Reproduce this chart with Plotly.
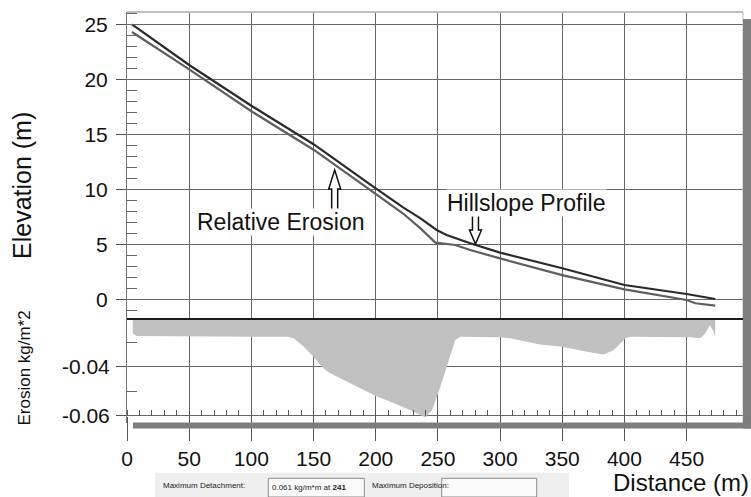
import plotly.graph_objects as go

# ---------------- data ----------------
profile_x = [4, 50, 100, 150, 196, 222, 236, 249, 257, 276, 300, 350, 400, 450, 473]
profile_y = [25.0, 21.3, 17.6, 14.1, 10.4, 8.36, 7.36, 6.3, 5.85, 5.09, 4.24, 2.82, 1.3, 0.48, 0.03]

relative_x = [4, 50, 100, 150, 196, 222, 236, 248, 264, 276, 300, 350, 400, 450, 457, 473]
relative_y = [24.3, 20.9, 17.1, 13.6, 9.9, 7.8, 6.45, 5.15, 4.94, 4.48, 3.72, 2.2, 0.9, -0.06, -0.36, -0.58]

erosion_x = [4.6, 8, 129, 134, 142, 150, 155.5, 161, 169, 177, 185, 193, 201, 212, 220, 230.5,
             240, 245.3, 252, 258.7, 264, 268, 300, 308, 314, 322, 332, 348.5, 364.6, 370, 383.3,
             391.4, 396.7, 400.8, 404.8, 453, 461, 465, 468.6, 471.8, 473]
erosion_y = [-0.0264, -0.0275, -0.0278, -0.0284, -0.0318, -0.0359, -0.0393, -0.0420, -0.0441, -0.0461,
             -0.0482, -0.0502, -0.0522, -0.0543, -0.0560, -0.0584, -0.0607, -0.0577, -0.0482, -0.0373,
             -0.0291, -0.0278, -0.0280, -0.0284, -0.0291, -0.0300, -0.0309, -0.0318, -0.0335, -0.0339,
             -0.0350, -0.0332, -0.0305, -0.0284, -0.0278, -0.0280, -0.0284, -0.0264, -0.0230, -0.0257, -0.0278]

x_ticks = [0, 50, 100, 150, 200, 250, 300, 350, 400, 450]
elev_ticks = [0, 5, 10, 15, 20, 25]
eros_ticks = [-0.04, -0.06]

FONT = "Liberation Sans, Arial, sans-serif"
W, H = 751, 497
L_PX, R_PX, T_PX, B_PX = 127, 743, 12, 423   # plot area edges in window pixels
ML, MR, MT, MB = L_PX, W - R_PX, T_PX, H - B_PX
PW, PH = R_PX - L_PX, B_PX - T_PX


def px(xp):
    return (xp - L_PX) / PW


def py(yp):
    return (B_PX - yp) / PH


split = py(319)

fig = go.Figure()

fig.add_trace(go.Scatter(x=erosion_x, y=erosion_y, xaxis="x2", yaxis="y2", mode="lines",
                         line=dict(width=0, color="#c0c0c0"), fill="tozeroy",
                         fillcolor="#c0c0c0", showlegend=False, hoverinfo="skip"))
fig.add_trace(go.Scatter(x=relative_x, y=relative_y, xaxis="x", yaxis="y", mode="lines",
                         line=dict(width=2.2, color="#5e5e5e"), showlegend=False))
fig.add_trace(go.Scatter(x=profile_x, y=profile_y, xaxis="x", yaxis="y", mode="lines",
                         line=dict(width=2.2, color="#2a2a2a"), showlegend=False))

xr = [0, PW / 1.2436]
grid = "#666666"

fig.update_layout(
    width=W, height=H,
    margin=dict(l=ML, r=MR, t=MT, b=MB, pad=0),
    paper_bgcolor="white", plot_bgcolor="white",
    font=dict(family=FONT, color="#111"),
    xaxis=dict(domain=[0, 1], anchor="y", range=xr, tickvals=x_ticks, showticklabels=False,
               ticks="", showgrid=True, gridcolor=grid, gridwidth=1, zeroline=False, showline=False),
    xaxis2=dict(domain=[0, 1], anchor="free", position=py(415.7), range=xr, tickvals=x_ticks,
                ticks="outside", ticklen=24, tickcolor="#555", tickwidth=1,
                tickfont=dict(size=21, family=FONT, color="#111"),
                showgrid=True, gridcolor=grid, gridwidth=1, zeroline=False, showline=False,
                minor=dict(dtick=10, tick0=0, ticks="inside", ticklen=6, tickcolor="#555", showgrid=False)),
    yaxis=dict(domain=[split, 1], anchor="x", range=[-1.79, 26.12], tickvals=elev_ticks,
               ticks="outside", ticklen=10, tickcolor="#555", ticklabelstandoff=4,
               tickfont=dict(size=21, family=FONT, color="#111"),
               showgrid=True, gridcolor=grid, zeroline=False, showline=True, linecolor="#777", linewidth=1,
               minor=dict(dtick=1, tick0=0, ticks="inside", ticklen=10, tickcolor="#666", showgrid=False)),
    yaxis2=dict(domain=[0, split], anchor="x2", range=[-0.06298, -0.02053], tickvals=eros_ticks,
                ticktext=["-0.04", "-0.06"],
                ticks="outside", ticklen=10, tickcolor="#555", ticklabelstandoff=2,
                tickfont=dict(size=21, family=FONT, color="#111"),
                showgrid=True, gridcolor=grid, zeroline=False, showline=True, linecolor="#777", linewidth=1,
                minor=dict(tickvals=[-0.03, -0.05], ticks="inside", ticklen=10, tickcolor="#666", showgrid=False)),
)

shapes = []
# top border, separator line, shadows
shapes.append(dict(type="line", xref="paper", yref="paper", x0=0, x1=1, y0=1, y1=1,
                   line=dict(color="#bdbdbd", width=2), layer="above"))
shapes.append(dict(type="line", xref="paper", yref="paper", x0=1, x1=1, y0=0, y1=1,
                   line=dict(color="#bdbdbd", width=1), layer="above"))
shapes.append(dict(type="line", xref="paper", yref="paper", x0=0, x1=1, y0=split, y1=split,
                   line=dict(color="#1a1a1a", width=2), layer="above"))
shapes.append(dict(type="rect", xref="paper", yref="paper", x0=1, x1=px(751), y0=py(428.5), y1=py(19),
                   line=dict(width=0), fillcolor="#7d7d7d", layer="above"))
shapes.append(dict(type="rect", xref="paper", yref="paper", x0=px(133), x1=px(751), y0=py(428.5), y1=py(422.5),
                   line=dict(width=0), fillcolor="#7d7d7d", layer="above"))

# hollow arrows
shapes.append(dict(type="path", xref="x", yref="y", xsizemode="pixel", ysizemode="pixel",
                   xanchor=167, yanchor=11.75,
                   path="M 0 0 L -6 -19 L -3 -19 L -3 -42 L 3 -42 L 3 -19 L 6 -19 Z",
                   fillcolor="white", line=dict(color="#111", width=1.5), layer="above"))
shapes.append(dict(type="path", xref="x", yref="y", xsizemode="pixel", ysizemode="pixel",
                   xanchor=280.2, yanchor=5.03,
                   path="M 0 0 L -6 14 L -3 14 L -3 33 L 3 33 L 3 14 L 6 14 Z",
                   fillcolor="white", line=dict(color="#111", width=1.5), layer="above"))

# info bar
shapes.append(dict(type="rect", xref="paper", yref="paper", x0=px(155), x1=px(569), y0=py(497), y1=py(472.7),
                   line=dict(width=0), fillcolor="#efefef", layer="above"))
for a, b in [(268.3, 364.3), (441.7, 536.7)]:
    shapes.append(dict(type="rect", xref="paper", yref="paper", x0=px(a), x1=px(b), y0=py(497), y1=py(478.3),
                       line=dict(width=1, color="#8a8a8a"), fillcolor="#f9f9f9", layer="above"))

fig.update_layout(shapes=shapes)

ann = []
ann.append(dict(text="Relative Erosion", x=55.8, y=7.05, xref="x", yref="y", xanchor="left", yanchor="middle",
                showarrow=False, font=dict(size=23, family=FONT, color="#111"), bgcolor="white", borderpad=0))
ann.append(dict(text="Hillslope Profile", x=256.8, y=8.8, xref="x", yref="y", xanchor="left", yanchor="middle",
                showarrow=False, font=dict(size=23, family=FONT, color="#111"), bgcolor="white", borderpad=0))
ann.append(dict(text="Elevation (m)", x=px(22), y=py(186), xref="paper", yref="paper", textangle=-90,
                showarrow=False, font=dict(size=25, family=FONT, color="#111"), xanchor="center", yanchor="middle"))
ann.append(dict(text="Erosion kg/m*2", x=px(24), y=py(368.5), xref="paper", yref="paper", textangle=-90,
                showarrow=False, font=dict(size=17, family=FONT, color="#111"), xanchor="center", yanchor="middle"))
ann.append(dict(text="Distance (m)", x=px(681), y=py(482), xref="paper", yref="paper",
                showarrow=False, font=dict(size=24, family=FONT, color="#111"), xanchor="center", yanchor="middle"))
ann.append(dict(text="Maximum Detachment:", x=px(160.7), y=py(485), xref="paper", yref="paper",
                showarrow=False, font=dict(size=8, family=FONT, color="#222"), xanchor="left", yanchor="middle"))
ann.append(dict(text="0.061 kg/m*m at <b>241</b>", x=px(270), y=py(487.5), xref="paper", yref="paper",
                showarrow=False, font=dict(size=8, family=FONT, color="#222"), xanchor="left", yanchor="middle"))
ann.append(dict(text="Maximum Deposition:", x=px(370), y=py(485), xref="paper", yref="paper",
                showarrow=False, font=dict(size=8, family=FONT, color="#222"), xanchor="left", yanchor="middle"))
fig.update_layout(annotations=ann)

fig.write_html("out.html", config={"displayModeBar": False},
               post_script="document.body.style.margin='0';document.body.style.overflow='hidden';")
